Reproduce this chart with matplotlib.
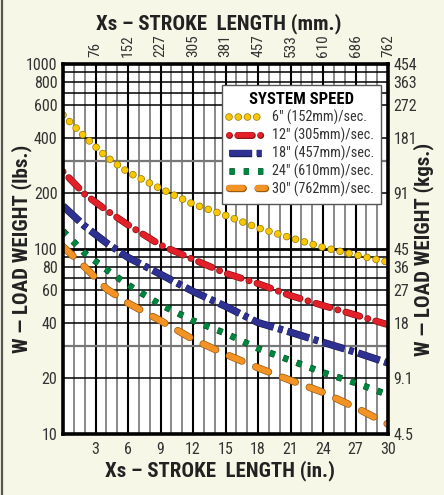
import matplotlib.pyplot as plt
import matplotlib.patheffects as pe
from matplotlib.lines import Line2D

plt.rcParams['font.family'] = ['Roboto Condensed', 'DejaVu Sans']

# stroke length (in.) and load weight (lbs.) per system speed
stroke_in = [0, 2, 4, 6, 9, 12, 15, 18, 21, 24, 27, 30]
w_6in = [530, 405, 315, 260, 212, 175, 152, 130, 115, 102, 93, 85]
w_12in = [262, 198, 162, 135, 105, 88, 74, 65, 56, 49.5, 44, 39]
w_18in = [171, 133, 108, 90, 73, 59, 49, 40, 35.5, 31.3, 27.7, 24.2]
w_24in = [125, 95, 77.5, 64, 50, 41, 35, 29, 25, 21.5, 18.9, 16.3]
w_30in = [103, 80, 61, 51, 41, 32.5, 27, 22.8, 19.5, 16.8, 13.9, 11.3]
speed_labels = ['6" (152mm)/sec.', '12" (305mm)/sec.', '18" (457mm)/sec.',
                '24" (610mm)/sec.', '30" (762mm)/sec.']

in_ticks = [3, 6, 9, 12, 15, 18, 21, 24, 27, 30]
mm_labels = ['76', '152', '227', '305', '381', '457', '533', '610', '686', '762']
lb_ticks = [10, 20, 40, 60, 80, 100, 200, 400, 600, 800, 1000]
kg_labels = ['4.5', '9.1', '18', '27', '36', '45', '91', '181', '272', '363', '454']
grid_lb = [20, 30, 40, 50, 60, 70, 80, 90, 100, 200, 300, 400, 600, 700, 800, 900]

bg = '#f7f7e7'
fig = plt.figure(figsize=(4.44, 4.95), dpi=100, facecolor=bg)
ax = fig.add_axes([0.1419, 0.1232, 0.732, 0.7475])
ax.set_facecolor('white')
ax.set_yscale('log')
ax.set_xlim(0, 30)
ax.set_ylim(10, 1000)

# grid
for i in range(1, 30):
    if i % 3 == 0:
        ax.axvline(i, color='black', lw=1.5, zorder=1)
    else:
        ax.axvline(i, color='#6a6a6a', lw=1.1, zorder=1)
for v in grid_lb:
    if v == 100:
        ax.axhline(v, color='black', lw=2.0, zorder=1)
    elif v in (30, 300):
        ax.axhline(v, color='#777777', lw=1.6, zorder=1)
    else:
        ax.axhline(v, color='black', lw=1.1, zorder=1)

def edge(lw, c):
    return [pe.Stroke(linewidth=lw + 1.0, foreground=c), pe.Normal()]

ax.plot(stroke_in, w_6in, color='#f9c800', lw=4.4, dashes=(0.01, 1.5),
        dash_capstyle='round', path_effects=edge(4.4, '#9a7a00'),
        label=speed_labels[0], zorder=5)
ax.plot(stroke_in, w_12in, color='#e3202a', lw=4.0, dashes=(0.01, 1.5, 2.6, 1.5),
        dash_capstyle='round', path_effects=edge(4.0, '#8a1010'),
        label=speed_labels[1], zorder=5)
ax.plot(stroke_in, w_18in, color='#2e3192', lw=4.3, dashes=(3.8, 0.8, 0.8, 0.8),
        dash_capstyle='butt', path_effects=edge(4.3, '#1a1c55'),
        label=speed_labels[2], zorder=5)
ax.plot(stroke_in, w_24in, color='#00853f', lw=3.8, dashes=(1, 1.7),
        dash_capstyle='butt', path_effects=edge(3.8, '#004a22'),
        label=speed_labels[3], zorder=5)
ax.plot(stroke_in, w_30in, color='#f39325', lw=4.3, dashes=(2.3, 2.5),
        dash_capstyle='round', path_effects=edge(4.3, '#9a5a10'),
        label=speed_labels[4], zorder=5)

for s in ax.spines.values():
    s.set_linewidth(2.6)
    s.set_zorder(6)

ax.set_xticks(in_ticks)
ax.set_xticklabels([str(t) for t in in_ticks])
ax.set_yticks(lb_ticks)
ax.set_yticklabels([str(t) for t in lb_ticks])
ax.minorticks_off()
ax.tick_params(length=0, labelsize=11.5, labelcolor='#333333')
ax.tick_params(axis='x', pad=6)
ax.tick_params(axis='y', pad=4)

top = ax.secondary_xaxis('top')
top.set_xticks(in_ticks)
top.set_xticklabels(mm_labels, rotation=90)
top.tick_params(length=0, labelsize=11, labelcolor='#333333', pad=5)
top.minorticks_off()

right = ax.secondary_yaxis('right')
right.set_yticks(lb_ticks)
right.set_yticklabels(kg_labels)
right.tick_params(length=0, labelsize=11.5, labelcolor='#333333', pad=4)
right.minorticks_off()

tf = dict(fontsize=15, fontweight='bold', color='#222222', ha='center', va='center')
fig.text(0.493, 0.953, 'Xs \u2013 STROKE  LENGTH (mm.)', **tf)
fig.text(0.495, 0.050, 'Xs \u2013 STROKE  LENGTH (in.)', **tf)
fig.text(0.048, 0.497, 'W \u2014 LOAD WEIGHT (lbs.)', rotation=90, **tf)
fig.text(0.955, 0.497, 'W \u2014 LOAD WEIGHT (kgs.)', rotation=90, **tf)

leg = ax.legend(loc='upper left', bbox_to_anchor=(0.489, 0.943), borderaxespad=0,
                title='SYSTEM SPEED', fontsize=10.3, handlelength=2.5,
                labelspacing=0.18, handletextpad=0.5, borderpad=0.5,
                fancybox=False, framealpha=1, edgecolor='#555555')
leg.get_title().set_fontweight('bold')
leg.get_title().set_fontsize(12)
leg.get_frame().set_linewidth(1.0)
leg.set_zorder(10)
for t in leg.get_texts():
    t.set_color('#333333')

fig.add_artist(Line2D([0.004, 0.004], [0, 1], transform=fig.transFigure,
                      color='#555555', lw=1.6))

fig.savefig('out.png', dpi=100, facecolor=bg)
